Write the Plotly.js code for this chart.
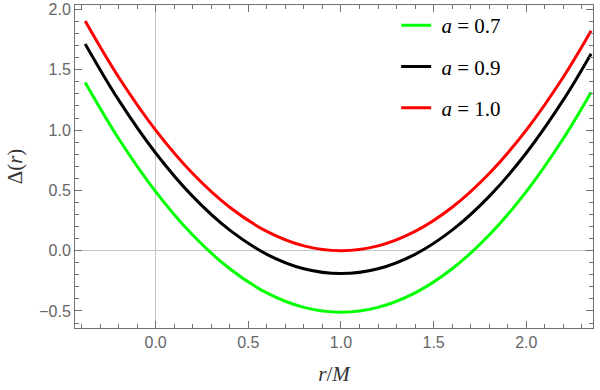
<!DOCTYPE html>
<html>
<head>
<meta charset="utf-8">
<script src="https://cdn.plot.ly/plotly-3.0.1.min.js"></script>
<style>
  html, body { margin: 0; padding: 0; background: #fff; }
  #plot { width: 600px; height: 390px; }
</style>
</head>
<body>
<div id="plot"></div>
<script>
// r/M sample points
const rValues = [-0.38, -0.2, 0, 0.2, 0.4, 0.6, 0.8, 1.0, 1.2, 1.4, 1.6, 1.8, 2.0, 2.2, 2.35];

// Delta(r) for each spin value
const deltaA07 = [1.394, 0.93, 0.49, 0.13, -0.15, -0.35, -0.47, -0.51, -0.47, -0.35, -0.15, 0.13, 0.49, 0.93, 1.313];
const deltaA09 = [1.714, 1.25, 0.81, 0.45, 0.17, -0.03, -0.15, -0.19, -0.15, -0.03, 0.17, 0.45, 0.81, 1.25, 1.633];
const deltaA10 = [1.904, 1.44, 1.0, 0.64, 0.36, 0.16, 0.04, 0.0, 0.04, 0.16, 0.36, 0.64, 1.0, 1.44, 1.823];

const seriesNames = ["\u00a0<i>a</i> = 0.7", "\u00a0<i>a</i> = 0.9", "\u00a0<i>a</i> = 1.0"];
const seriesColors = ["#00ff00", "#000000", "#ff0000"];

const traces = [deltaA07, deltaA09, deltaA10].map((ys, i) => ({
  x: rValues,
  y: ys,
  type: "scatter",
  mode: "lines",
  name: seriesNames[i],
  legendgroup: "g" + i,
  line: { color: seriesColors[i], width: 3, shape: "spline" },
}));

const axisCommon = {
  showgrid: false,
  zeroline: true,
  zerolinecolor: "#c4c4c4",
  zerolinewidth: 1,
  showline: true,
  linecolor: "#707070",
  linewidth: 1,
  mirror: "allticks",
  ticks: "inside",
  ticklen: 7,
  tickcolor: "#707070",
  tickformat: ".1f",
  dtick: 0.5,
  tick0: 0,
  tickfont: { family: "Liberation Sans, Arial, sans-serif", size: 16, color: "#666666" },
  minor: { dtick: 0.1, ticks: "inside", ticklen: 4, tickcolor: "#707070", showgrid: false },
};

const layout = {
  width: 600,
  height: 390,
  margin: { l: 75, r: 7, t: 5, b: 62 },
  paper_bgcolor: "#ffffff",
  plot_bgcolor: "#ffffff",
  showlegend: true,
  legend: {
    x: 0.62,
    y: 1.0,
    xanchor: "left",
    yanchor: "top",
    bgcolor: "rgba(0,0,0,0)",
    traceorder: "grouped",
    tracegroupgap: 11,
    font: { family: "Liberation Serif, Times New Roman, serif", size: 21, color: "#000" },
  },
  xaxis: Object.assign({}, axisCommon, {
    range: [-0.435, 2.36],
    title: { text: "<i>r</i>/<i>M</i>", font: { family: "Liberation Serif, serif", size: 21, color: "#333" }, standoff: 16 },
  }),
  yaxis: Object.assign({}, axisCommon, {
    range: [-0.641, 2.037],
    title: { text: "Δ(<i>r</i>)", font: { family: "Liberation Serif, serif", size: 21, color: "#333" }, standoff: 10 },
  }),
};

Plotly.newPlot("plot", traces, layout, { displayModeBar: false, staticPlot: true });
</script>
</body>
</html>
